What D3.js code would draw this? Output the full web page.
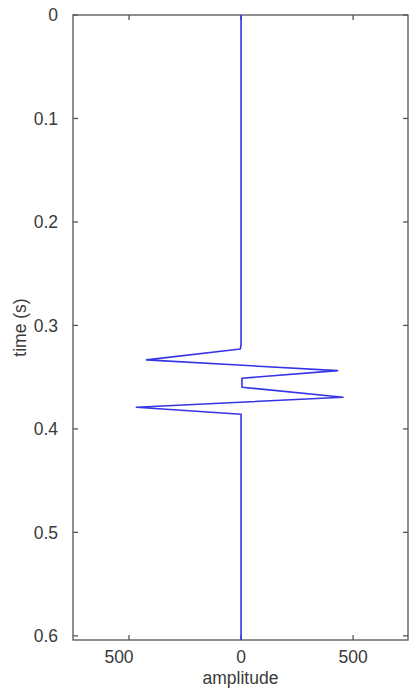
<!DOCTYPE html>
<html>
<head>
<meta charset="utf-8">
<script src="https://cdn.jsdelivr.net/npm/d3@7"></script>
<style>
  body { margin: 0; background: #fff; }
  text { font-family: "Liberation Sans", Arial, sans-serif; fill: #3a3a3a; }
</style>
</head>
<body>
<script>
// trace samples
const times = [0, 0.318, 0.3227, 0.3333, 0.3437, 0.351, 0.3597, 0.3694, 0.379, 0.3858, 0.604];
const amps  = [0, 0, -3, -422, 431, 4, 4, 455, -467, 0, 0];
const xTicks = [-500, 0, 500];
const yTicks = [0, 0.1, 0.2, 0.3, 0.4, 0.5, 0.6];

const W = 409, H = 692;
const m = {left: 73, right: 1, top: 15, bottom: 52};

const svg = d3.select("body").append("svg")
  .attr("width", W).attr("height", H);

const x = d3.scaleLinear().domain([-750, 745]).range([m.left, W - m.right]);
const y = d3.scaleLinear().domain([0, 0.604]).range([m.top, H - m.bottom]);

const axisColor = "#555";

// box
svg.append("rect")
  .attr("x", x.range()[0]).attr("y", y.range()[0])
  .attr("width", x.range()[1] - x.range()[0])
  .attr("height", y.range()[1] - y.range()[0])
  .attr("fill", "none").attr("stroke", axisColor).attr("stroke-width", 1.3);

const fmtY = d => d === 0 ? "0" : d3.format(".1f")(d);

// ticks on all four sides, pointing inward
const tickLen = 5;
const g = svg.append("g").attr("stroke", axisColor).attr("stroke-width", 1.3);
xTicks.forEach(t => {
  g.append("line").attr("x1", x(t)).attr("x2", x(t))
    .attr("y1", y.range()[1]).attr("y2", y.range()[1] - tickLen);
  g.append("line").attr("x1", x(t)).attr("x2", x(t))
    .attr("y1", y.range()[0]).attr("y2", y.range()[0] + tickLen);
});
yTicks.forEach(t => {
  g.append("line").attr("y1", y(t)).attr("y2", y(t))
    .attr("x1", x.range()[0]).attr("x2", x.range()[0] + tickLen);
  g.append("line").attr("y1", y(t)).attr("y2", y(t))
    .attr("x1", x.range()[1]).attr("x2", x.range()[1] - tickLen);
});

// tick labels
svg.append("g").selectAll("text").data(xTicks).join("text")
  .attr("x", d => x(d) + (d < 0 ? -10 : 0))
  .attr("y", 663)
  .attr("text-anchor", "middle")
  .attr("font-size", 17.5)
  .text(d => Math.abs(d));

svg.append("g").selectAll("text").data(yTicks).join("text")
  .attr("x", 58)
  .attr("y", d => y(d))
  .attr("dy", "0.36em")
  .attr("text-anchor", "end")
  .attr("font-size", 17.5)
  .text(fmtY);

// axis titles
svg.append("text")
  .attr("x", (x.range()[0] + x.range()[1]) / 2)
  .attr("y", 684)
  .attr("text-anchor", "middle")
  .attr("font-size", 17.5)
  .text("amplitude");

svg.append("text")
  .attr("transform", `translate(26,${(y.range()[0] + y.range()[1]) / 2}) rotate(-90)`)
  .attr("text-anchor", "middle")
  .attr("font-size", 17.5)
  .text("time (s)");

// trace
const line = d3.line()
  .x((d, i) => x(amps[i]))
  .y(d => y(d));

svg.append("path")
  .datum(times)
  .attr("d", line)
  .attr("fill", "none")
  .attr("stroke", "#3535e6")
  .attr("stroke-width", 1.6)
  .attr("stroke-linejoin", "round");
</script>
</body>
</html>
